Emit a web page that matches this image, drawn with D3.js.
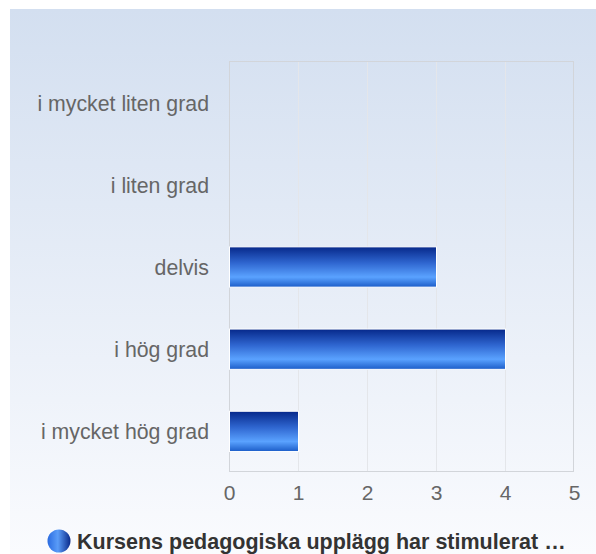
<!DOCTYPE html>
<html>
<head>
<meta charset="utf-8">
<script src="https://cdn.jsdelivr.net/npm/d3@7"></script>
<style>
  body { margin: 0; background: #fff; }
  svg { display: block; font-family: "Liberation Sans", Arial, sans-serif; }
</style>
</head>
<body>
<div id="chart"></div>
<script>
// answer categories, top to bottom
var categories = ["i mycket liten grad", "i liten grad", "delvis", "i hög grad", "i mycket hög grad"];
// number of answers per category
var counts = [0, 0, 3, 4, 1];
var xTicks = [0, 1, 2, 3, 4, 5];
var seriesName = "Kursens pedagogiska upplägg har stimulerat …";

var W = 596, H = 554;
var margin = {top: 61, right: 22, bottom: 82, left: 229};

var svg = d3.select("#chart").append("svg")
    .attr("width", W)
    .attr("height", H);

var defs = svg.append("defs");

var bg = defs.append("linearGradient").attr("id", "bg")
    .attr("x1", 0).attr("y1", 0).attr("x2", 0).attr("y2", 1);
bg.append("stop").attr("offset", "0%").attr("stop-color", "#d3dff0");
bg.append("stop").attr("offset", "100%").attr("stop-color", "#fafbfe");

var barGrad = defs.append("linearGradient").attr("id", "bar")
    .attr("x1", 0).attr("y1", 0).attr("x2", 0).attr("y2", 1);
barGrad.append("stop").attr("offset", "0%").attr("stop-color", "#06288a");
barGrad.append("stop").attr("offset", "40%").attr("stop-color", "#2f66d0");
barGrad.append("stop").attr("offset", "75%").attr("stop-color", "#5aa2ff");
barGrad.append("stop").attr("offset", "100%").attr("stop-color", "#1b5cc8");

var dotGrad = defs.append("linearGradient").attr("id", "dot")
    .attr("x1", 0).attr("y1", 0).attr("x2", 1).attr("y2", 0);
dotGrad.append("stop").attr("offset", "0%").attr("stop-color", "#2a6be0");
dotGrad.append("stop").attr("offset", "45%").attr("stop-color", "#5a9cf8");
dotGrad.append("stop").attr("offset", "100%").attr("stop-color", "#0a2a8a");

// background panel
svg.append("rect")
    .attr("x", 10).attr("y", 9)
    .attr("width", W - 10).attr("height", H - 9)
    .attr("fill", "url(#bg)");

var width = W - margin.left - margin.right,
    height = H - margin.top - margin.bottom;

var g = svg.append("g")
    .attr("transform", "translate(" + margin.left + "," + margin.top + ")");

var x = d3.scaleLinear().domain([0, 5]).range([0, width]);
var y = d3.scaleBand().domain(categories).range([0, height]).paddingInner(0.51).paddingOuter(0.255);
var yb = d3.scaleBand().domain(categories).range([0, height]);

// grid lines
g.append("g")
  .selectAll("line")
  .data(xTicks.slice(1, -1))
  .enter().append("line")
    .attr("x1", function(d) { return x(d) + 0.5; })
    .attr("x2", function(d) { return x(d) + 0.5; })
    .attr("y1", 0).attr("y2", height)
    .attr("stroke", "#e4e6ea");

// plot frame
g.append("rect")
    .attr("x", 0.5).attr("y", 0.5)
    .attr("width", width - 1).attr("height", height - 1)
    .attr("fill", "none")
    .attr("stroke", "#d2d5da");

// bars
g.append("g")
  .selectAll("rect")
  .data(categories)
  .enter().append("rect")
    .filter(function(d, i) { return counts[i] > 0; })
    .attr("x", x(0) + 0.5)
    .attr("y", function(d) { return y(d) + 0.5; })
    .attr("width", function(d) { return x(counts[categories.indexOf(d)]) - x(0); })
    .attr("height", y.bandwidth())
    .attr("fill", "url(#bar)")
    .attr("stroke", "#ffffff")
    .attr("stroke-width", 1);

// category labels
var yAxis = d3.axisLeft(yb).tickSize(0).tickPadding(20);
g.append("g").call(yAxis)
    .call(function(s) { s.select(".domain").remove(); })
    .selectAll("text")
      .attr("fill", "#666")
      .attr("dy", "0.4em")
      .style("font-size", "21.3px");

// value axis
var xAxis = d3.axisBottom(x).tickValues(xTicks).tickSize(0).tickPadding(13).tickFormat(d3.format("d"));
g.append("g")
    .attr("transform", "translate(0," + height + ")")
    .call(xAxis)
    .call(function(s) { s.select(".domain").remove(); })
    .selectAll("text")
      .attr("fill", "#666")
      .style("font-size", "21px");

// legend
var legend = svg.append("g").attr("transform", "translate(59,541)");
legend.append("circle")
    .attr("r", 11.5)
    .attr("fill", "url(#dot)");
legend.append("text")
    .attr("x", 18)
    .attr("dy", "0.36em")
    .attr("fill", "#333")
    .style("font-size", "21.5px")
    .style("font-weight", "bold")
    .text(seriesName);
</script>
</body>
</html>
